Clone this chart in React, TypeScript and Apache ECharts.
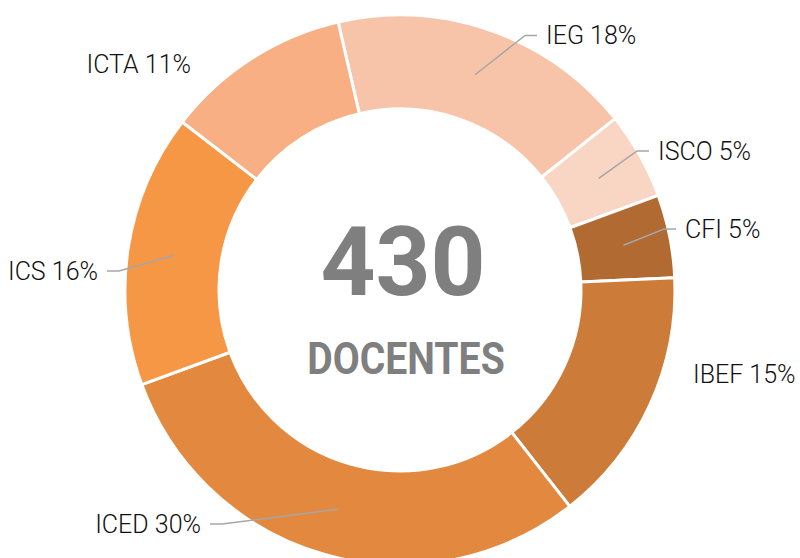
import React, { useEffect, useRef } from 'react';
import * as echarts from 'echarts';

// ---- data ----
const categories = ['IEG', 'ISCO', 'CFI', 'IBEF', 'ICED', 'ICS', 'ICTA'];
const teacherCounts = [77, 22, 21, 65, 129, 69, 47];
const centerCaption = 'DOCENTES';

// ---- styles ----
const sliceColors = ['#F8C4A9', '#F9D5C4', '#B06A32', '#CC7B39', '#E2893F', '#F69746', '#F7AF83'];
const showLeader = [true, true, true, false, true, true, false];
// manual label placement (like an Excel chart with dragged labels)
const labelX = [537, 649, 676, 684, 210, 107, 200];
const labelY = [35.5, 151, 229, 374, 524, 271, 64];
const labelAlign = ['left', 'left', 'left', 'left', 'right', 'right', 'right'];

export default function App() {
  const ref = useRef<HTMLDivElement>(null);

  useEffect(() => {
    if (!ref.current) return;
    const chart = echarts.init(ref.current, null, { renderer: 'svg' });
    const total = teacherCounts.reduce((a, b) => a + b, 0);

    const ringData = categories.map((name, i) => ({
      name,
      value: teacherCounts[i],
      itemStyle: { color: sliceColors[i] },
    }));
    const labelData = categories.map((name, i) => ({
      name,
      value: teacherCounts[i],
      labelLine: { show: showLeader[i] },
    }));

    chart.setOption({
      animation: false,
      backgroundColor: '#ffffff',
      graphic: [
        {
          type: 'text',
          x: 403,
          y: 262,
          style: {
            text: String(total),
            fontSize: 96,
            fontWeight: 'bold',
            fontFamily: 'Roboto',
            fill: '#7F7F7F',
            align: 'center',
            verticalAlign: 'middle',
          },
        },
        {
          type: 'text',
          x: 406,
          y: 359,
          scaleX: 0.87,
          style: {
            text: centerCaption,
            fontSize: 45,
            fontWeight: 'bold',
            fontFamily: 'Roboto',
            fill: '#7F7F7F',
            align: 'center',
            verticalAlign: 'middle',
          },
        },
      ],
      series: [
        {
          type: 'pie',
          z: 2,
          center: [400, 290],
          radius: [181, 275],
          startAngle: 103,
          clockwise: true,
          silent: true,
          label: { show: false },
          labelLine: { show: false },
          itemStyle: { borderColor: '#ffffff', borderWidth: 3 },
          emphasis: { disabled: true },
          data: ringData,
        },
        {
          type: 'pie',
          z: 5,
          center: [400, 290],
          radius: [0, 228],
          startAngle: 103,
          clockwise: true,
          silent: true,
          avoidLabelOverlap: false,
          itemStyle: { color: 'rgba(0,0,0,0)' },
          emphasis: { disabled: true },
          label: {
            show: true,
            position: 'outside',
            formatter: (p: any) => `${p.name} ${Math.round(p.percent)}%`,
            fontSize: 25,
            fontWeight: 300,
            fontFamily: 'Roboto',
            color: '#111111',
            padding: [0, 9],
            backgroundColor: 'rgba(255,255,255,0)',
          },
          labelLine: {
            show: true,
            length: 10,
            length2: 12,
            lineStyle: { color: '#A6A6A6', width: 1.5 },
          },
          labelLayout: (params: any) => {
            const i = params.dataIndex;
            return {
              x: labelX[i],
              y: labelY[i],
              align: labelAlign[i],
              verticalAlign: 'middle',
            };
          },
          data: labelData,
        },
      ],
    });

    return () => chart.dispose();
  }, []);

  return (
    <div
      ref={ref}
      style={{ position: 'absolute', left: 0, top: 0, width: 800, height: 558 }}
    />
  );
}
